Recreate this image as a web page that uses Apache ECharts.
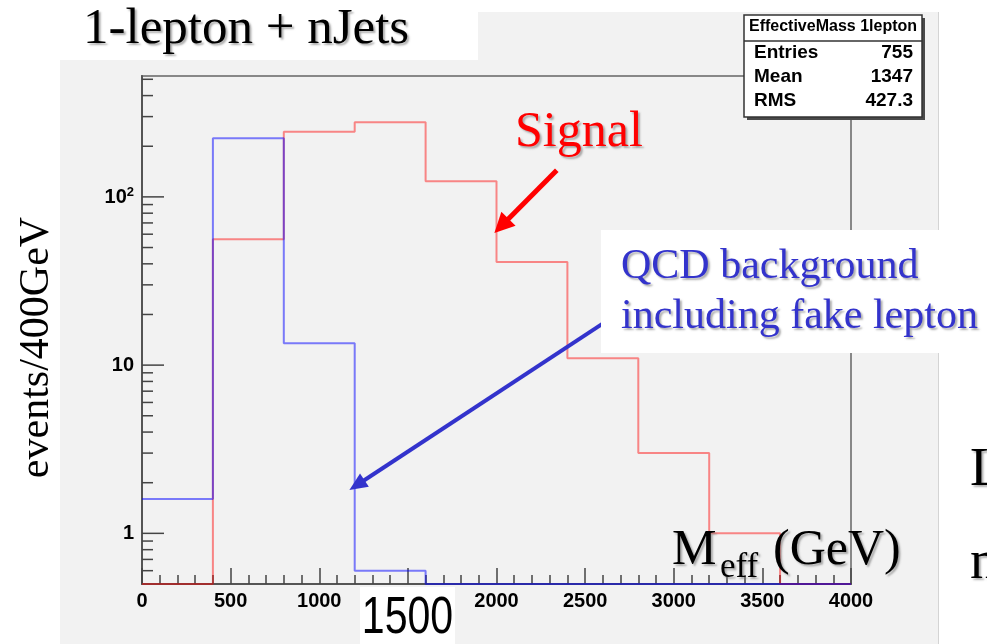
<!DOCTYPE html>
<html><head><meta charset="utf-8">
<script src="https://cdn.jsdelivr.net/npm/echarts@6/dist/echarts.min.js"></script>
<style>html,body{margin:0;padding:0;background:#fff}#c{width:987px;height:644px}</style>
</head><body><div id="c"></div><script>
// ---- data ----
const binEdges = [0, 400, 800, 1200, 1600, 2000, 2400, 2800, 3200, 3600, 4000];
const signalCounts = [0, 56, 244, 278, 124, 41, 11, 3, 1, 0];
const qcdCounts = [1.6, 223, 13.5, 0.6, 0, 0, 0, 0, 0, 0];
const xRange = { min: 0, max: 4000, interval: 500 };
const yRange = { min: 0.5, max: 523 };
const yMajorTicks = [1, 10, 100];
const yMinorTicks = [0.6, 0.7, 0.8, 0.9, 2, 3, 4, 5, 6, 7, 8, 9, 20, 30, 40, 50, 60, 70, 80, 90, 200, 300, 400, 500];
const statsTitle = 'EffectiveMass 1lepton';
const statsRows = [['Entries', '755'], ['Mean', '1347'], ['RMS', '427.3']];
// annotation arrows in data coords: [xFrom, yFrom, xTo, yTo]
const signalArrow = [2340, 144, 1988, 61];
const qcdArrow = [2612, 18, 1170, 1.81];

// ---- styles ----
const SERIF = '"Liberation Serif", "Times New Roman", serif';
const SANS = '"Liberation Sans", Arial, Helvetica, sans-serif';
const arrowStyles = [
  { color: '#ff0000', width: 5, head: 20, half: 10 },
  { color: '#3333cc', width: 4, head: 18, half: 8 }
];
const shadow = { textShadowColor: 'rgba(120,120,120,0.6)', textShadowBlur: 2, textShadowOffsetX: 2, textShadowOffsetY: 2 };

function stepData(counts) {
  const out = [];
  for (let i = 0; i < counts.length; i++) out.push([binEdges[i], Math.max(counts[i], yRange.min)]);
  out.push([binEdges[binEdges.length - 1], Math.max(counts[counts.length - 1], yRange.min)]);
  return out;
}

function txt(text, x, y, font, fill, align, extra) {
  return {
    type: 'text', x: x, y: y, z: 120, silent: true,
    style: Object.assign({
      text: text, font: font, fill: fill,
      align: align || 'left', textAlign: align || 'left',
      verticalAlign: 'middle', textVerticalAlign: 'middle'
    }, extra || {})
  };
}

const tickData = yMajorTicks.map(v => [0, v, 22]).concat(yMinorTicks.map(v => [0, v, 11]));

const graphic = [
  { type: 'rect', z: -100, silent: true, shape: { x: 60, y: 12, width: 879, height: 632 }, style: { fill: '#f2f2f2' } },
  { type: 'line', z: -99, silent: true, shape: { x1: 938.5, y1: 12, x2: 938.5, y2: 644 }, style: { stroke: '#d4d4d4', lineWidth: 1 } },
  // title box
  { type: 'rect', z: 100, silent: true, shape: { x: 0, y: 0, width: 478, height: 60 }, style: { fill: '#ffffff' } },
  txt('1-lepton + nJets', 83, 30, '51px ' + SERIF, '#000', 'left', shadow),
  // signal label
  txt('Signal', 515, 133, '50px ' + SERIF, '#ff0000', 'left', shadow),
  // QCD label box
  { type: 'rect', z: 100, silent: true, shape: { x: 601, y: 230, width: 338, height: 123 }, style: { fill: '#ffffff' } },
  txt('QCD background', 621, 267, '42px ' + SERIF, '#3333cc', 'left', shadow),
  txt('including fake lepton', 621, 317, '42px ' + SERIF, '#3333cc', 'left', shadow),
  // M_eff (GeV)
  txt('M', 672, 551, '50px ' + SERIF, '#000', 'left', shadow),
  txt('eff', 720, 568, '35px ' + SERIF, '#000', 'left', shadow),
  txt('(GeV)', 773, 551, '50px ' + SERIF, '#000', 'left', shadow),
  // 1500 box
  { type: 'rect', z: 100, silent: true, shape: { x: 360, y: 587, width: 95, height: 57 }, style: { fill: '#ffffff' } },
  Object.assign(txt('1500', 407.5, 619, '52px ' + SANS, '#000', 'center'), { scaleX: 0.79, originX: 407.5, originY: 619, x: 0, y: 0 }),
  // y axis title
  Object.assign(txt('events/400GeV', 37, 347.5, '42px ' + SERIF, '#000', 'center'), { rotation: Math.PI / 2 }),
  // cut-off slide text on right
  txt('L', 970, 471, '55px ' + SERIF, '#000', 'left', shadow),
  txt('n', 970, 564, '55px ' + SERIF, '#000', 'left', shadow),
  // stats box
  { type: 'rect', z: 110, silent: true, shape: { x: 747, y: 18, width: 178, height: 102 }, style: { fill: '#4a4a4a' } },
  { type: 'rect', z: 111, silent: true, shape: { x: 744, y: 15, width: 178, height: 102 }, style: { fill: '#ffffff', stroke: '#333', lineWidth: 1.5 } },
  { type: 'line', z: 112, silent: true, shape: { x1: 744, y1: 41, x2: 922, y2: 41 }, style: { stroke: '#333', lineWidth: 1.5 } },
  txt(statsTitle, 833, 27, 'bold 16px ' + SANS, '#000', 'center')
];
// position "1500" via style coords so scaling origin is correct
graphic[12].style.x = 407.5; graphic[12].style.y = 619;
statsRows.forEach((r, i) => {
  graphic.push(txt(r[0], 754, 53 + i * 24, 'bold 19px ' + SANS, '#000', 'left'));
  graphic.push(txt(r[1], 913, 53 + i * 24, 'bold 19px ' + SANS, '#000', 'right'));
});

const chart = echarts.init(document.getElementById('c'), null, { renderer: 'canvas' });
chart.setOption({
  animation: false,
  backgroundColor: '#ffffff',
  grid: {
    left: 142, right: 136, top: 76, bottom: 60,
    show: true, borderColor: '#888', borderWidth: 2, backgroundColor: 'transparent',
    outerBoundsMode: 'none', containLabel: false
  },
  xAxis: {
    type: 'value', min: xRange.min, max: xRange.max, interval: xRange.interval,
    axisLine: { show: true, onZero: false, lineStyle: { color: '#555', width: 2 } },
    axisTick: { show: true, inside: true, length: 16, lineStyle: { color: '#444', width: 1.5 } },
    minorTick: { show: true, splitNumber: 5, length: 9, lineStyle: { color: '#444', width: 1.5 } },
    splitLine: { show: false }, minorSplitLine: { show: false },
    axisLabel: { show: true, margin: 7, color: '#000', fontSize: 20, fontWeight: 'bold', fontFamily: SANS,
      hideOverlap: false, showMinLabel: true, showMaxLabel: true,
      formatter: function (v) { return String(v); } }
  },
  yAxis: {
    type: 'log', logBase: 10, min: yRange.min, max: yRange.max, splitNumber: 3,
    axisLine: { show: true, lineStyle: { color: '#555', width: 2 } },
    axisTick: { show: false },
    splitLine: { show: false },
    axisLabel: {
      show: true, margin: 8, color: '#000', fontSize: 20, fontWeight: 'bold', fontFamily: SANS,
      showMinLabel: false, showMaxLabel: false, hideOverlap: false,
      formatter: function (v) {
        const r = Math.round(v * 1000) / 1000;
        if (r === 100) return '{b|10}{s|2}';
        if (r === 10) return '{b|10}';
        if (r === 1) return '{b|1}';
        return '';
      },
      rich: {
        b: { fontSize: 20, fontWeight: 'bold', fontFamily: SANS, color: '#000', verticalAlign: 'bottom' },
        s: { fontSize: 13, fontWeight: 'bold', fontFamily: SANS, color: '#000', verticalAlign: 'bottom', padding: [0, 0, 9, 0] }
      }
    }
  },
  series: [
    { name: 'Signal', type: 'line', step: 'end', data: stepData(signalCounts), symbol: 'none', showSymbol: false, clip: false, z: 3,
      lineStyle: { color: 'rgba(255,0,0,0.45)', width: 2 } },
    { name: 'QCD', type: 'line', step: 'end', data: stepData(qcdCounts), symbol: 'none', showSymbol: false, clip: false, z: 4,
      lineStyle: { color: 'rgba(0,0,255,0.5)', width: 2 } },
    { name: 'yticks', type: 'custom', data: tickData, clip: false, z: 5, silent: true,
      renderItem: function (params, api) {
        const p = api.coord([api.value(0), api.value(1)]);
        return { type: 'line', shape: { x1: p[0], y1: p[1], x2: p[0] + api.value(2), y2: p[1] }, style: { stroke: '#444', lineWidth: 1.5 } };
      } },
    { name: 'arrows', type: 'custom', data: [signalArrow, qcdArrow], clip: false, z: 6, silent: true,
      renderItem: function (params, api) {
        const a = api.coord([api.value(0), api.value(1)]);
        const b = api.coord([api.value(2), api.value(3)]);
        const cfg = arrowStyles[params.dataIndex];
        const dx = b[0] - a[0], dy = b[1] - a[1], L = Math.hypot(dx, dy), ux = dx / L, uy = dy / L;
        const bx = b[0] - ux * cfg.head, by = b[1] - uy * cfg.head, nx = -uy, ny = ux;
        return { type: 'group', children: [
          { type: 'line', shape: { x1: a[0], y1: a[1], x2: bx + ux * 2, y2: by + uy * 2 }, style: { stroke: cfg.color, lineWidth: cfg.width } },
          { type: 'polygon', shape: { points: [[b[0], b[1]], [bx + nx * cfg.half, by + ny * cfg.half], [bx - nx * cfg.half, by - ny * cfg.half]] }, style: { fill: cfg.color } }
        ] };
      } }
  ],
  graphic: graphic
});
</script></body></html>
